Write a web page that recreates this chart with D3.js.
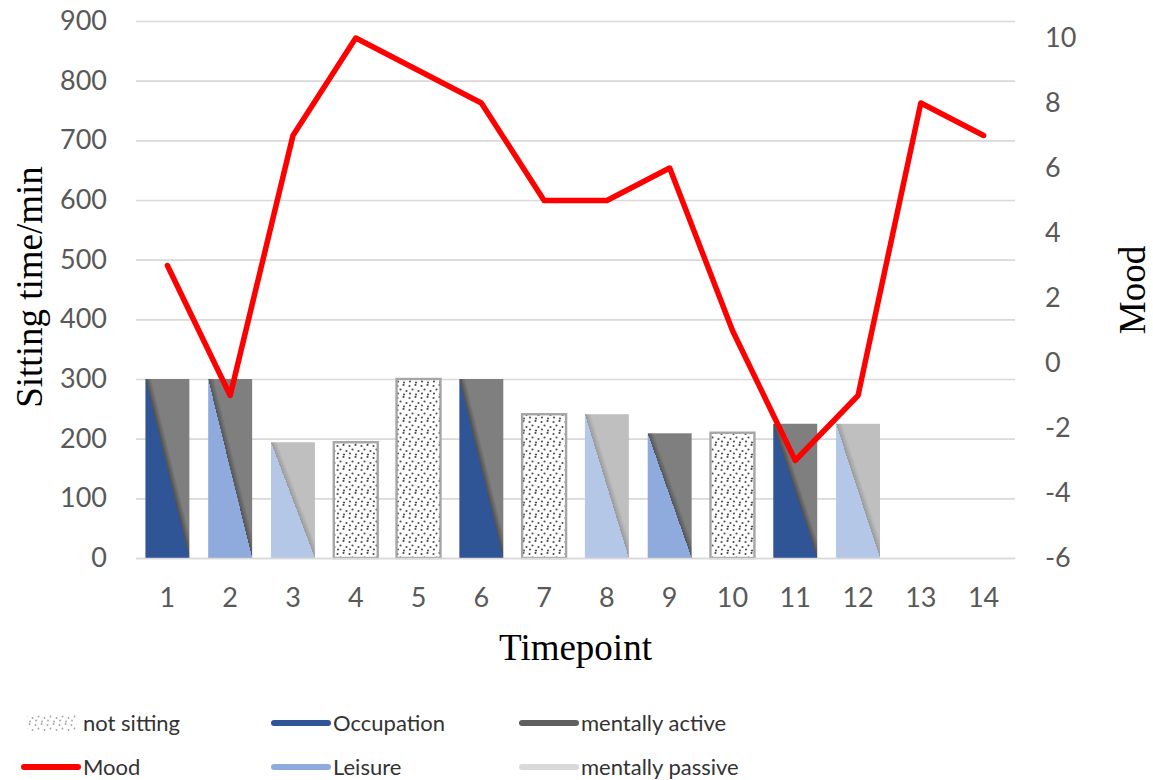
<!DOCTYPE html>
<html>
<head>
<meta charset="utf-8">
<script src="https://cdn.jsdelivr.net/npm/d3@7"></script>
<style>
  body { margin: 0; background: #fff; }
  svg { display: block; }
</style>
</head>
<body>
<svg id="chart" width="1153" height="780"></svg>
<script>
// ---- data ----
const timepoints = ["1", "2", "3", "4", "5", "6", "7", "8", "9", "10", "11", "12", "13", "14"];
const sittingMinutes = [300, 300, 194, 194, 300, 300, 241, 241, 209, 210, 225, 225, 0, 0];
const context = ["Occupation", "Leisure", "Leisure", "not sitting", "not sitting", "Occupation",
                 "not sitting", "Leisure", "Leisure", "not sitting", "Occupation", "Leisure", null, null];
const mentalState = ["mentally active", "mentally active", "mentally passive", null, null, "mentally active",
                     null, "mentally passive", "mentally active", null, "mentally active", "mentally passive", null, null];
const mood = [3, -1, 7, 10, 9, 8, 5, 5, 6, 1, -3, -1, 8, 7];

const leftTicks = [0, 100, 200, 300, 400, 500, 600, 700, 800, 900];
const rightTicks = [-6, -4, -2, 0, 2, 4, 6, 8, 10];

const legendRows = [
  ["not sitting", "Occupation", "mentally active"],
  ["Mood", "Leisure", "mentally passive"]
];

// ---- styling ----
const colors = {
  "Occupation": "#2f5597",
  "Leisure": "#8faadc",
  "Leisure passive": "#b4c7e7",
  "mentally active": "#7f7f7f",
  "mentally passive": "#bfbfbf",
  "Mood": "#ff0000"
};
const legendColors = {
  "Occupation": "#2f5597",
  "Leisure": "#8faadc",
  "mentally active": "#5f5f5f",
  "mentally passive": "#d9d9d9",
  "Mood": "#ff0000"
};
const tickFont = "Lato, 'Open Sans', sans-serif";
const titleFont = "'Liberation Serif', 'DejaVu Serif', serif";

const plot = { left: 136, right: 1015, top: 21, bottom: 558 };

const svg = d3.select("#chart");
const defs = svg.append("defs");

// ---- scales ----
const x = d3.scaleBand()
  .domain(timepoints)
  .range([plot.left, plot.right])
  .paddingInner(0.3)
  .paddingOuter(0.15);

const yLeft = d3.scaleLinear().domain([0, 900]).range([plot.bottom, plot.top]);
const yRight = d3.scaleLinear().domain([-6, 10]).range([plot.bottom, 38]);

// ---- fills: diagonal split of sitting context (lower-left) and mental state (upper-right) ----
function splitGradient(id, lower, shade, upper) {
  const g = defs.append("linearGradient")
    .attr("id", id)
    .attr("gradientUnits", "objectBoundingBox")
    .attr("x1", 0).attr("y1", 1).attr("x2", 1).attr("y2", 0);
  [[0, lower], [0.5, lower], [0.5, shade], [0.57, upper], [1, upper]].forEach(([o, c]) =>
    g.append("stop").attr("offset", o).attr("stop-color", c));
}
splitGradient("occ-active", colors["Occupation"], "#4f4f4f", colors["mentally active"]);
splitGradient("lei-active", colors["Leisure"], "#555555", colors["mentally active"]);
splitGradient("lei-passive", colors["Leisure passive"], "#9a9a9a", colors["mentally passive"]);

// speckled pattern for not-sitting bars
function dotPattern(id, dotColor, r) {
  const p = defs.append("pattern")
    .attr("id", id)
    .attr("patternUnits", "userSpaceOnUse")
    .attr("width", 12).attr("height", 12);
  p.append("rect").attr("width", 12).attr("height", 12).attr("fill", "#fff");
  [[1.5, 2], [7.5, 1], [4.5, 5.5], [10.5, 7], [2, 9.5], [8, 10.5]].forEach(([cx, cy]) =>
    p.append("circle").attr("cx", cx).attr("cy", cy).attr("r", r).attr("fill", dotColor));
}
dotPattern("dots", "#4a4a4a", 1.05);
dotPattern("dots-light", "#a0a0a0", 0.9);

function barFill(i) {
  const c = context[i];
  if (c === "not sitting") return "url(#dots)";
  if (c === "Occupation") return "url(#occ-active)";
  if (c === "Leisure" && mentalState[i] === "mentally active") return "url(#lei-active)";
  return "url(#lei-passive)";
}

// ---- gridlines ----
svg.append("g")
  .attr("transform", `translate(${plot.left},0)`)
  .call(d3.axisLeft(yLeft).tickValues(leftTicks).tickSize(-(plot.right - plot.left)).tickFormat(""))
  .call(g => g.select(".domain").remove())
  .call(g => g.selectAll(".tick line").attr("stroke", "#d9d9d9").attr("stroke-width", 1.6));

// ---- bars ----
const barData = timepoints.map((t, i) => ({ t, i, v: sittingMinutes[i] })).filter(d => d.v > 0);
svg.append("g").selectAll("rect")
  .data(barData)
  .join("rect")
  .attr("x", d => x(d.t))
  .attr("width", x.bandwidth())
  .attr("y", d => yLeft(d.v))
  .attr("height", d => yLeft(0) - yLeft(d.v))
  .attr("fill", d => barFill(d.i))
  .attr("stroke", d => context[d.i] === "not sitting" ? "#a6a6a6" : "none")
  .attr("stroke-width", 2.4);

// ---- mood line (secondary axis) ----
const line = d3.line()
  .x((d, i) => x(timepoints[i]) + x.bandwidth() / 2)
  .y(d => yRight(d));

svg.append("path")
  .datum(mood)
  .attr("d", line)
  .attr("fill", "none")
  .attr("stroke", colors["Mood"])
  .attr("stroke-width", 5.5)
  .attr("stroke-linejoin", "round")
  .attr("stroke-linecap", "round");

// ---- axes ----
const axisText = g => g.selectAll("text")
  .attr("font-family", tickFont)
  .attr("font-size", 27)
  .attr("fill", "#595959");

svg.append("g")
  .attr("transform", `translate(${plot.left},0)`)
  .call(d3.axisLeft(yLeft).tickValues(leftTicks).tickSize(0).tickPadding(29))
  .call(g => g.select(".domain").remove())
  .call(axisText);

svg.append("g")
  .attr("transform", `translate(${plot.right},0)`)
  .call(d3.axisRight(yRight).tickValues(rightTicks).tickSize(0).tickPadding(30)
    .tickFormat(d => String(d)))
  .call(g => g.select(".domain").remove())
  .call(axisText);

svg.append("g")
  .attr("transform", `translate(0,${plot.bottom})`)
  .call(d3.axisBottom(x).tickSize(0))
  .call(g => g.select(".domain").attr("stroke", "#d9d9d9").attr("stroke-width", 1.6))
  .call(axisText)
  .call(g => g.selectAll("text").attr("y", 40).attr("dy", "0.35em"));

// ---- axis titles ----
svg.append("text")
  .attr("x", (plot.left + plot.right) / 2)
  .attr("y", 660)
  .attr("text-anchor", "middle")
  .attr("font-family", titleFont)
  .attr("font-size", 37)
  .attr("fill", "#000")
  .text("Timepoint");

svg.append("text")
  .attr("transform", "translate(42,287) rotate(-90)")
  .attr("text-anchor", "middle")
  .attr("font-family", titleFont)
  .attr("font-size", 37)
  .attr("fill", "#000")
  .text("Sitting time/min");

svg.append("text")
  .attr("transform", "translate(1145,290) rotate(-90)")
  .attr("text-anchor", "middle")
  .attr("font-family", titleFont)
  .attr("font-size", 37)
  .attr("fill", "#000")
  .text("Mood");

// ---- legend ----
const colX = [22, 272, 520];
const rowY = [723, 767];
const legend = svg.append("g");
legendRows.forEach((row, r) => {
  row.forEach((name, c) => {
    const g = legend.append("g").attr("transform", `translate(${colX[c]},${rowY[r]})`);
    if (name === "not sitting") {
      g.append("rect").attr("x", 5).attr("y", -8).attr("width", 50).attr("height", 16)
        .attr("fill", "url(#dots-light)");
    } else {
      g.append("line").attr("x1", 2).attr("x2", 56).attr("y1", 0).attr("y2", 0)
        .attr("stroke", legendColors[name]).attr("stroke-width", 6).attr("stroke-linecap", "round");
    }
    g.append("text")
      .attr("x", 61)
      .attr("dy", "0.35em")
      .attr("font-family", tickFont)
      .attr("font-size", 22)
      .attr("fill", "#333")
      .text(name);
  });
});
</script>
</body>
</html>
